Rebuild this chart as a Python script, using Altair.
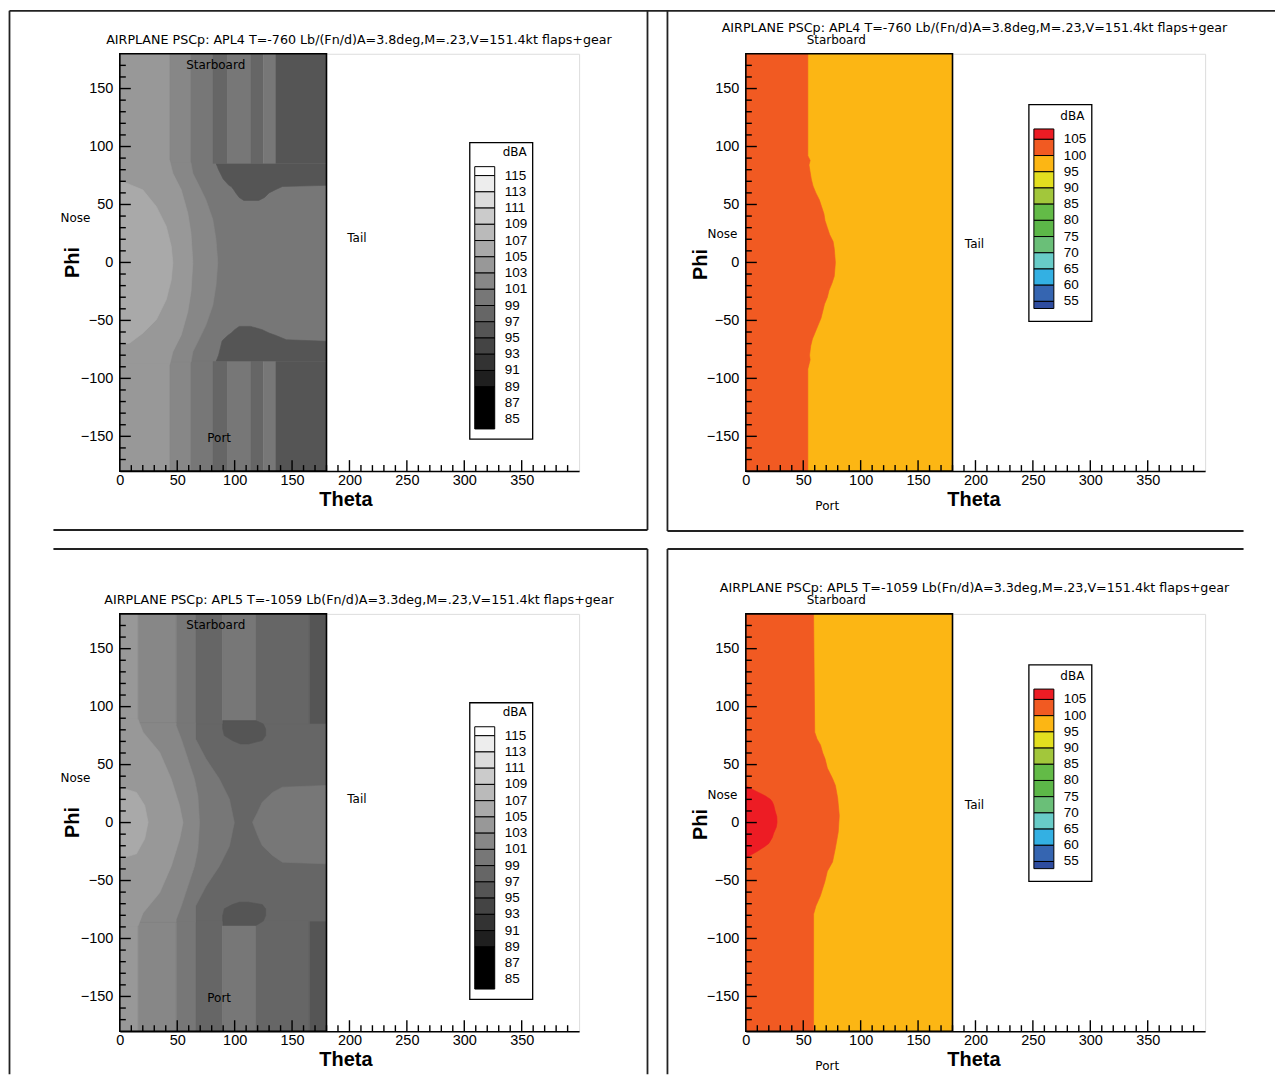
import altair as alt
import pandas as pd

FONT_NUM = "Liberation Sans"
FONT_TXT = "DejaVu Sans"

# ---------------- data ----------------
THETA_MAX = 180
PHI_RANGE = [-180, 180]
X_DOMAIN = [0, 400]
X_LABELS = [0, 50, 100, 150, 200, 250, 300, 350]
Y_LABELS = [-150, -100, -50, 0, 50, 100, 150]
X_MAJOR = [50, 100, 150, 200, 250, 300, 350]
X_MINOR = [10, 20, 30, 40, 60, 70, 80, 90, 110, 120, 130, 140, 160, 170, 180, 190,
           210, 220, 230, 240, 260, 270, 280, 290, 310, 320, 330, 340, 360, 370, 380, 390]
Y_MAJOR = [-150, -100, -50, 0, 50, 100, 150]
Y_MINOR = [-170, -160, -140, -130, -120, -110, -90, -80, -70, -60, -40, -30, -20, -10,
           10, 20, 30, 40, 60, 70, 80, 90, 110, 120, 130, 140, 160, 170]

TITLE_APL4 = "AIRPLANE PSCp: APL4 T=-760 Lb/(Fn/d)A=3.8deg,M=.23,V=151.4kt flaps+gear"
TITLE_APL5 = "AIRPLANE PSCp: APL5 T=-1059 Lb(Fn/d)A=3.3deg,M=.23,V=151.4kt flaps+gear"
LABELS = ["Starboard", "Port", "Nose", "Tail", "Phi", "Theta", "dBA"]

# gray legend (dBA)
GRAY_EDGES = [116.1, 115, 113, 111, 109, 107, 105, 103, 101, 99, 97, 95, 93, 91, 89, 83.8]
GRAY_COLORS = ["#ffffff", "#ededed", "#dcdcdc", "#cbcbcb", "#bababa", "#a9a9a9", "#989898",
               "#878787", "#777777", "#666666", "#555555", "#444444", "#333333", "#1f1f1f", "#000000"]
GRAY_LABELS = [115, 113, 111, 109, 107, 105, 103, 101, 99, 97, 95, 93, 91, 89, 87, 85]
GRAY_LEVELS = [115, 113, 111, 109, 107, 105, 103, 101, 99, 97, 95, 93, 91, 89, 85]

# color legend (dBA)
COLOR_EDGES = [108.2, 105, 100, 95, 90, 85, 80, 75, 70, 65, 60, 55, 52.8]
COLOR_COLORS = ["#ed1c24", "#f15a22", "#fcb614", "#e3df1f", "#a2c73b", "#63bb47", "#5cb748",
                "#6abf78", "#68ccc8", "#33b0e3", "#3565b1", "#2e4c9f"]
COLOR_LABELS = [105, 100, 95, 90, 85, 80, 75, 70, 65, 60, 55]
COLOR_LEVELS = [105, 100, 95, 90, 85, 80, 75, 70, 65, 60, 55, 50]

# ---- APL4 gray (top-left) ----
TL_BAND_EDGES = [0, 43.4, 62, 81, 94, 114, 125, 136, 180]
TL_BAND_LEVELS = [103, 101, 99, 97, 99, 97, 99, 95]
TL_MID_PHI = [-85, 85]
TL_ARCH_TOP_PHI = [53.5, 56, 60, 63, 65.5, 66.5, 72, 80, 85]
TL_ARCH_TOP_T1 = [108, 104, 101, 99, 97, 95, 90, 86, 84]
TL_ARCH_TOP_T2 = [121, 126, 130, 136, 141.6, 180, 180, 180, 180]
TL_ARCH_BOT_PHI = [-85, -80, -72, -68, -66.7, -63, -60.9, -58, -55.2]
TL_ARCH_BOT_T1 = [84, 86, 88, 89, 90, 94, 97, 100, 104]
TL_ARCH_BOT_T2 = [180, 180, 180, 180, 145, 136, 130, 124, 114]
TL_B_PHI = [-86, -77, -65.5, -54, -37, -19.5, 0, 19.5, 37, 54, 65.5, 77, 86]
TL_B_T2 = [62, 63.6, 69.4, 75, 81, 83.8, 85.3, 83.8, 81, 75, 69.4, 63.6, 62]
TL_A_PHI = [-88, -77, -62.6, -42.5, -25, 0, 25, 42.5, 62.6, 77, 88]
TL_A_T2 = [43.4, 46.2, 53.5, 59.2, 62, 63.6, 62, 59.2, 53.5, 46.2, 43.4]
TL_L_PHI = [-71, -69.5, -61, -49.4, -32, -15, 0, 13.8, 31, 48.3, 62.6, 68.4, 70]
TL_L_T2 = [0, 8.7, 20, 31.8, 40.5, 44.8, 46.2, 44.8, 40.5, 31.8, 20, 5.8, 0]

# ---- APL5 gray (bottom-left) ----
BL_BAND_EDGES = [0, 15.9, 49.1, 66, 89.6, 118.5, 165, 180]
BL_BAND_LEVELS = [103, 101, 99, 97, 99, 97, 95]
BL_MID_PHI = [-85, 85]
BL_CAP_TOP_PHI = [67.8, 70.7, 75, 80.7, 85, 88]
BL_CAP_TOP_T1 = [105, 98, 91, 89.6, 89.6, 89.6]
BL_CAP_TOP_T2 = [112, 124, 127, 127, 125, 118.5]
BL_CAP_BOT_PHI = [-88.8, -85, -80.2, -74.4, -70.7, -68.7]
BL_CAP_BOT_T1 = [89.6, 89.6, 89.6, 91, 98, 104]
BL_CAP_BOT_T2 = [118.5, 125, 127, 127, 124, 112]
BL_BLOB_PHI = [-35.6, -34.2, -28.4, -19.8, -11, 0.3, 9, 17.5, 26, 30.5, 32]
BL_BLOB_T1 = [180, 141.6, 133, 124, 120, 115.6, 120, 124, 133, 141.6, 180]
BL_C_PHI = [-86, -72, -55, -37.6, -20.4, 0, 20.4, 37.6, 55, 72, 86]
BL_C_T2 = [66, 66, 75, 86.7, 95.4, 99.7, 95.4, 86.7, 75, 66, 66]
BL_B_PHI = [-86, -83.6, -72, -55, -37.6, -23, 0, 23, 37.6, 55, 72, 83.6, 86]
BL_B_T2 = [49.1, 49.1, 53.5, 59.2, 65, 68, 69.4, 68, 65, 59.2, 53.5, 49.1, 49.1]
BL_A_PHI = [-89, -78, -60.6, -37.6, -14.7, 0, 14.7, 37.6, 60.6, 78, 89]
BL_A_T2 = [15.9, 20.2, 34.7, 44.8, 52, 55, 52, 44.8, 34.7, 20.2, 15.9]
BL_L_PHI = [-31.3, -27, -14, 0.3, 14.7, 26, 30.5]
BL_L_T2 = [0, 14.5, 21.7, 24.6, 21.7, 14.5, 0]

# ---- APL4 color (top-right) ----
TR_ORANGE_PHI = [-180, -92, -88, -84, -80, -76, -72, -66, -60, -54, -48, -42, -36, -30, -24, -18,
                 -12, -6, 0, 6, 12, 18, 24, 30, 36, 42, 48, 54, 60, 66, 72, 78, 84, 88, 92, 180]
TR_ORANGE_T2 = [54, 54, 55, 56, 55.5, 56, 56.5, 58, 60.5, 63, 65.5, 67, 68.5, 71, 72.5, 75,
                77, 77.5, 78, 77.5, 77, 76, 73, 71, 69, 68, 66, 64, 61, 58.5, 57, 56, 55, 56, 54, 54]

# ---- APL5 color (bottom-right) ----
BR_ORANGE_PHI = [-180, -79, -72, -63, -51, -42, -34, -22, -8, 6, 21, 32, 38, 47, 55, 60, 67, 72, 78, 180]
BR_ORANGE_T2 = [59, 59, 61, 65, 68.8, 71, 75.5, 78, 80.5, 81.4, 80, 78, 75.5, 71, 69, 67, 65, 62, 60, 59]
BR_RED_PHI = [-32, -29, -25, -21, -18, -13, -9, -4, 0, 5, 10, 15, 18, 20, 23, 26, 29, 32]
BR_RED_T2 = [0, 2.5, 9.7, 16, 20, 23, 24.3, 26.5, 27.2, 27, 25.5, 24.3, 23, 21.4, 17, 11, 5, 0]

GRAY_MAP = dict(zip(GRAY_LEVELS, GRAY_COLORS))
COLOR_MAP = dict(zip(COLOR_LEVELS, COLOR_COLORS))

# ---------------- helpers ----------------
W, H = 460, 418
ONE = pd.DataFrame({"k": [0]})


def xs():
    return alt.Scale(domain=X_DOMAIN, nice=False, zero=False)


def ys():
    return alt.Scale(domain=PHI_RANGE, nice=False, zero=False)


XAX = alt.Axis(values=X_LABELS, ticks=False, grid=False, domainColor="#000", domainWidth=1.5,
               labelFont=FONT_NUM, labelFontSize=14.5, labelColor="#000", labelPadding=2,
               title=None, labelFlush=False)
YAX = alt.Axis(values=Y_LABELS, ticks=False, grid=False, domainColor="#000", domainWidth=1.5,
               labelFont=FONT_NUM, labelFontSize=14.5, labelColor="#000", labelPadding=7,
               title=None, labelFlush=False)


def ex(f):
    return alt.X(f, type="quantitative", scale=xs(), axis=XAX)


def ey(f):
    return alt.Y(f, type="quantitative", scale=ys(), axis=YAX)


def bands(edges, levels, cmap):
    df = pd.DataFrame({"t1": edges[:-1], "t2": edges[1:], "p1": PHI_RANGE[0], "p2": PHI_RANGE[1],
                       "col": [cmap[l] for l in levels]})
    return alt.Chart(df).mark_rect(strokeWidth=0.6).encode(
        x=ex("t1"), x2="t2", y=ey("p1"), y2="p2",
        fill=alt.Fill("col:N", scale=None), stroke=alt.Stroke("col:N", scale=None))


def region(color, phi, t1, t2):
    n = len(phi)
    t1 = t1 if isinstance(t1, list) else [t1] * n
    t2 = t2 if isinstance(t2, list) else [t2] * n
    df = pd.DataFrame({"phi": phi, "t1": t1, "t2": t2})
    return alt.Chart(df).mark_area(orient="horizontal", color=color, stroke=color,
                                   strokeWidth=0.6).encode(y=ey("phi"), x=ex("t1"), x2="t2")


def border():
    df = pd.DataFrame({"t1": [0], "t2": [THETA_MAX], "p1": [PHI_RANGE[0]], "p2": [PHI_RANGE[1]]})
    return alt.Chart(df).mark_rect(fillOpacity=0, stroke="#000", strokeWidth=1.6).encode(
        x=ex("t1"), x2="t2", y=ey("p1"), y2="p2")


def ticks():
    out = []
    for vals, ln in ((X_MAJOR, 11), (X_MINOR, 6)):
        out.append(alt.Chart(pd.DataFrame({"t": vals})).mark_rule(color="#000", strokeWidth=1.4).encode(
            x=ex("t"), y=alt.value(H), y2=alt.value(H - ln)))
    for vals, ln in ((Y_MAJOR, 11), (Y_MINOR, 6)):
        out.append(alt.Chart(pd.DataFrame({"p": vals})).mark_rule(color="#000", strokeWidth=1.4).encode(
            y=ey("p"), x=alt.value(0), x2=alt.value(ln)))
    return out


def txt(s, x, y, size=12, font=FONT_TXT, weight="normal", angle=0, align="center"):
    return alt.Chart(ONE).mark_text(text=s, font=font, fontSize=size, fontWeight=weight, angle=angle,
                                    align=align, baseline="middle", color="#000").encode(
        x=alt.value(x), y=alt.value(y))


def hline(x1, x2, y):
    return alt.Chart(ONE).mark_rule(color="#222", strokeWidth=1.8).encode(
        x=alt.value(x1), x2=alt.value(x2), y=alt.value(y))


def vline(x, y1, y2):
    return alt.Chart(ONE).mark_rule(color="#222", strokeWidth=1.8).encode(
        x=alt.value(x), y=alt.value(y1), y2=alt.value(y2))


def frame_box(x1, x2, y1, y2):
    return alt.Chart(ONE).mark_rect(fillOpacity=0, stroke="#000", strokeWidth=1.3).encode(
        x=alt.value(x1), x2=alt.value(x2), y=alt.value(y1), y2=alt.value(y2))


def legend(edges, colors, labels, domain, rng, bx, lx, title_xy, fr):
    lsc = alt.Scale(domain=domain, range=rng, nice=False, zero=False)
    df = pd.DataFrame({"hi": edges[:-1], "lo": edges[1:], "col": colors})
    boxes = alt.Chart(df).mark_rect(stroke="#000", strokeWidth=1).encode(
        x=alt.value(bx[0]), x2=alt.value(bx[1]),
        y=alt.Y("hi:Q", scale=lsc, axis=None), y2="lo:Q",
        fill=alt.Fill("col:N", scale=None))
    labs = alt.Chart(pd.DataFrame({"v": labels})).mark_text(
        align="left", baseline="middle", font=FONT_NUM, fontSize=13.5, color="#000").encode(
        x=alt.value(lx), y=alt.Y("v:Q", scale=lsc, axis=None), text=alt.Text("v:Q"))
    return alt.layer(boxes, labs), [frame_box(*fr), txt(LABELS[6], title_xy[0], title_xy[1], size=12)]


def gray_panel(main_layers, title, deco):
    leg, legdeco = legend(GRAY_EDGES, GRAY_COLORS, GRAY_LABELS, [85, 115], [366, 122],
                          (355.5, 375.5), 385.5, (395.5, 98), (350.5, 413.5, 89, 386))
    texts = [
        txt(title, 239.5, -14, size=12.7),
        txt(LABELS[0], 96, 11, size=12),
        txt(LABELS[1], 99.5, 385, size=12),
        txt(LABELS[2], -44.5, 164, size=12),
        txt(LABELS[3], 237.5, 185, size=12),
        txt(LABELS[4], -46.5, 209, size=20, font=FONT_NUM, weight="bold", angle=270),
        txt(LABELS[5], 226.5, 447, size=20, font=FONT_NUM, weight="bold"),
    ]
    main = alt.layer(*main_layers, border(), *ticks())
    return alt.layer(main, leg, *legdeco, *texts, *deco).resolve_scale(y="independent").properties(
        width=W, height=H)


def color_panel(main_layers, title, deco):
    leg, legdeco = legend(COLOR_EDGES, COLOR_COLORS, COLOR_LABELS, [55, 105], [248, 85.7],
                          (288.5, 308.5), 318.5, (327, 62), (283.5, 346.5, 51, 268))
    texts = [
        txt(title, 229, -26, size=12.7),
        txt(LABELS[0], 90.5, -14, size=12),
        txt(LABELS[1], 81.5, 453, size=12),
        txt(LABELS[2], -23.5, 181, size=12),
        txt(LABELS[3], 229, 191, size=12),
        txt(LABELS[4], -44.5, 211, size=20, font=FONT_NUM, weight="bold", angle=270),
        txt(LABELS[5], 228.5, 447, size=20, font=FONT_NUM, weight="bold"),
    ]
    main = alt.layer(*main_layers, border(), *ticks())
    return alt.layer(main, leg, *legdeco, *texts, *deco).resolve_scale(y="independent").properties(
        width=W, height=H)


G = GRAY_MAP
C = COLOR_MAP

tl_layers = [
    bands(TL_BAND_EDGES, TL_BAND_LEVELS, G),
    region(G[99], TL_MID_PHI, 62, 180),
    region(G[95], TL_ARCH_TOP_PHI, TL_ARCH_TOP_T1, TL_ARCH_TOP_T2),
    region(G[95], TL_ARCH_BOT_PHI, TL_ARCH_BOT_T1, TL_ARCH_BOT_T2),
    region(G[101], TL_B_PHI, 0, TL_B_T2),
    region(G[103], TL_A_PHI, 0, TL_A_T2),
    region(G[105], TL_L_PHI, 0, TL_L_T2),
]
bl_layers = [
    bands(BL_BAND_EDGES, BL_BAND_LEVELS, G),
    region(G[97], BL_MID_PHI, 66, 180),
    region(G[95], BL_CAP_TOP_PHI, BL_CAP_TOP_T1, BL_CAP_TOP_T2),
    region(G[95], BL_CAP_BOT_PHI, BL_CAP_BOT_T1, BL_CAP_BOT_T2),
    region(G[99], BL_BLOB_PHI, BL_BLOB_T1, 180),
    region(G[99], BL_C_PHI, 0, BL_C_T2),
    region(G[101], BL_B_PHI, 0, BL_B_T2),
    region(G[103], BL_A_PHI, 0, BL_A_T2),
    region(G[105], BL_L_PHI, 0, BL_L_T2),
]
tr_layers = [
    bands([0, THETA_MAX], [95], C),
    region(C[100], TR_ORANGE_PHI, 0, TR_ORANGE_T2),
]
br_layers = [
    bands([0, THETA_MAX], [95], C),
    region(C[100], BR_ORANGE_PHI, 0, BR_ORANGE_T2),
    region(C[105], BR_RED_PHI, 0, BR_RED_T2),
]

tl_deco = [hline(-110.5, 1157, -43), vline(-110.5, -43, 1022), vline(528.5, -43, 477),
           hline(-66.5, 528.5, 477)]
tr_deco = [vline(-78.5, -43, 478), hline(-78.5, 498.5, 478)]
bl_deco = [hline(-66.5, 528.5, -65), vline(528.5, -65, 461)]
br_deco = [hline(-78.5, 498.5, -65), vline(-78.5, -65, 461)]

TL = gray_panel(tl_layers, TITLE_APL4, tl_deco)
TR = color_panel(tr_layers, TITLE_APL4, tr_deco)
BL = gray_panel(bl_layers, TITLE_APL5, bl_deco)
BR = color_panel(br_layers, TITLE_APL5, br_deco)

chart = alt.concat(TL, TR, BL, BR, columns=2, spacing={"row": 143, "column": 167},
                   bounds="flush").properties(padding=0).configure_view(stroke=None).configure(
    background="white")

chart.save("out.html", embed_options={"renderer": "svg", "actions": False})
